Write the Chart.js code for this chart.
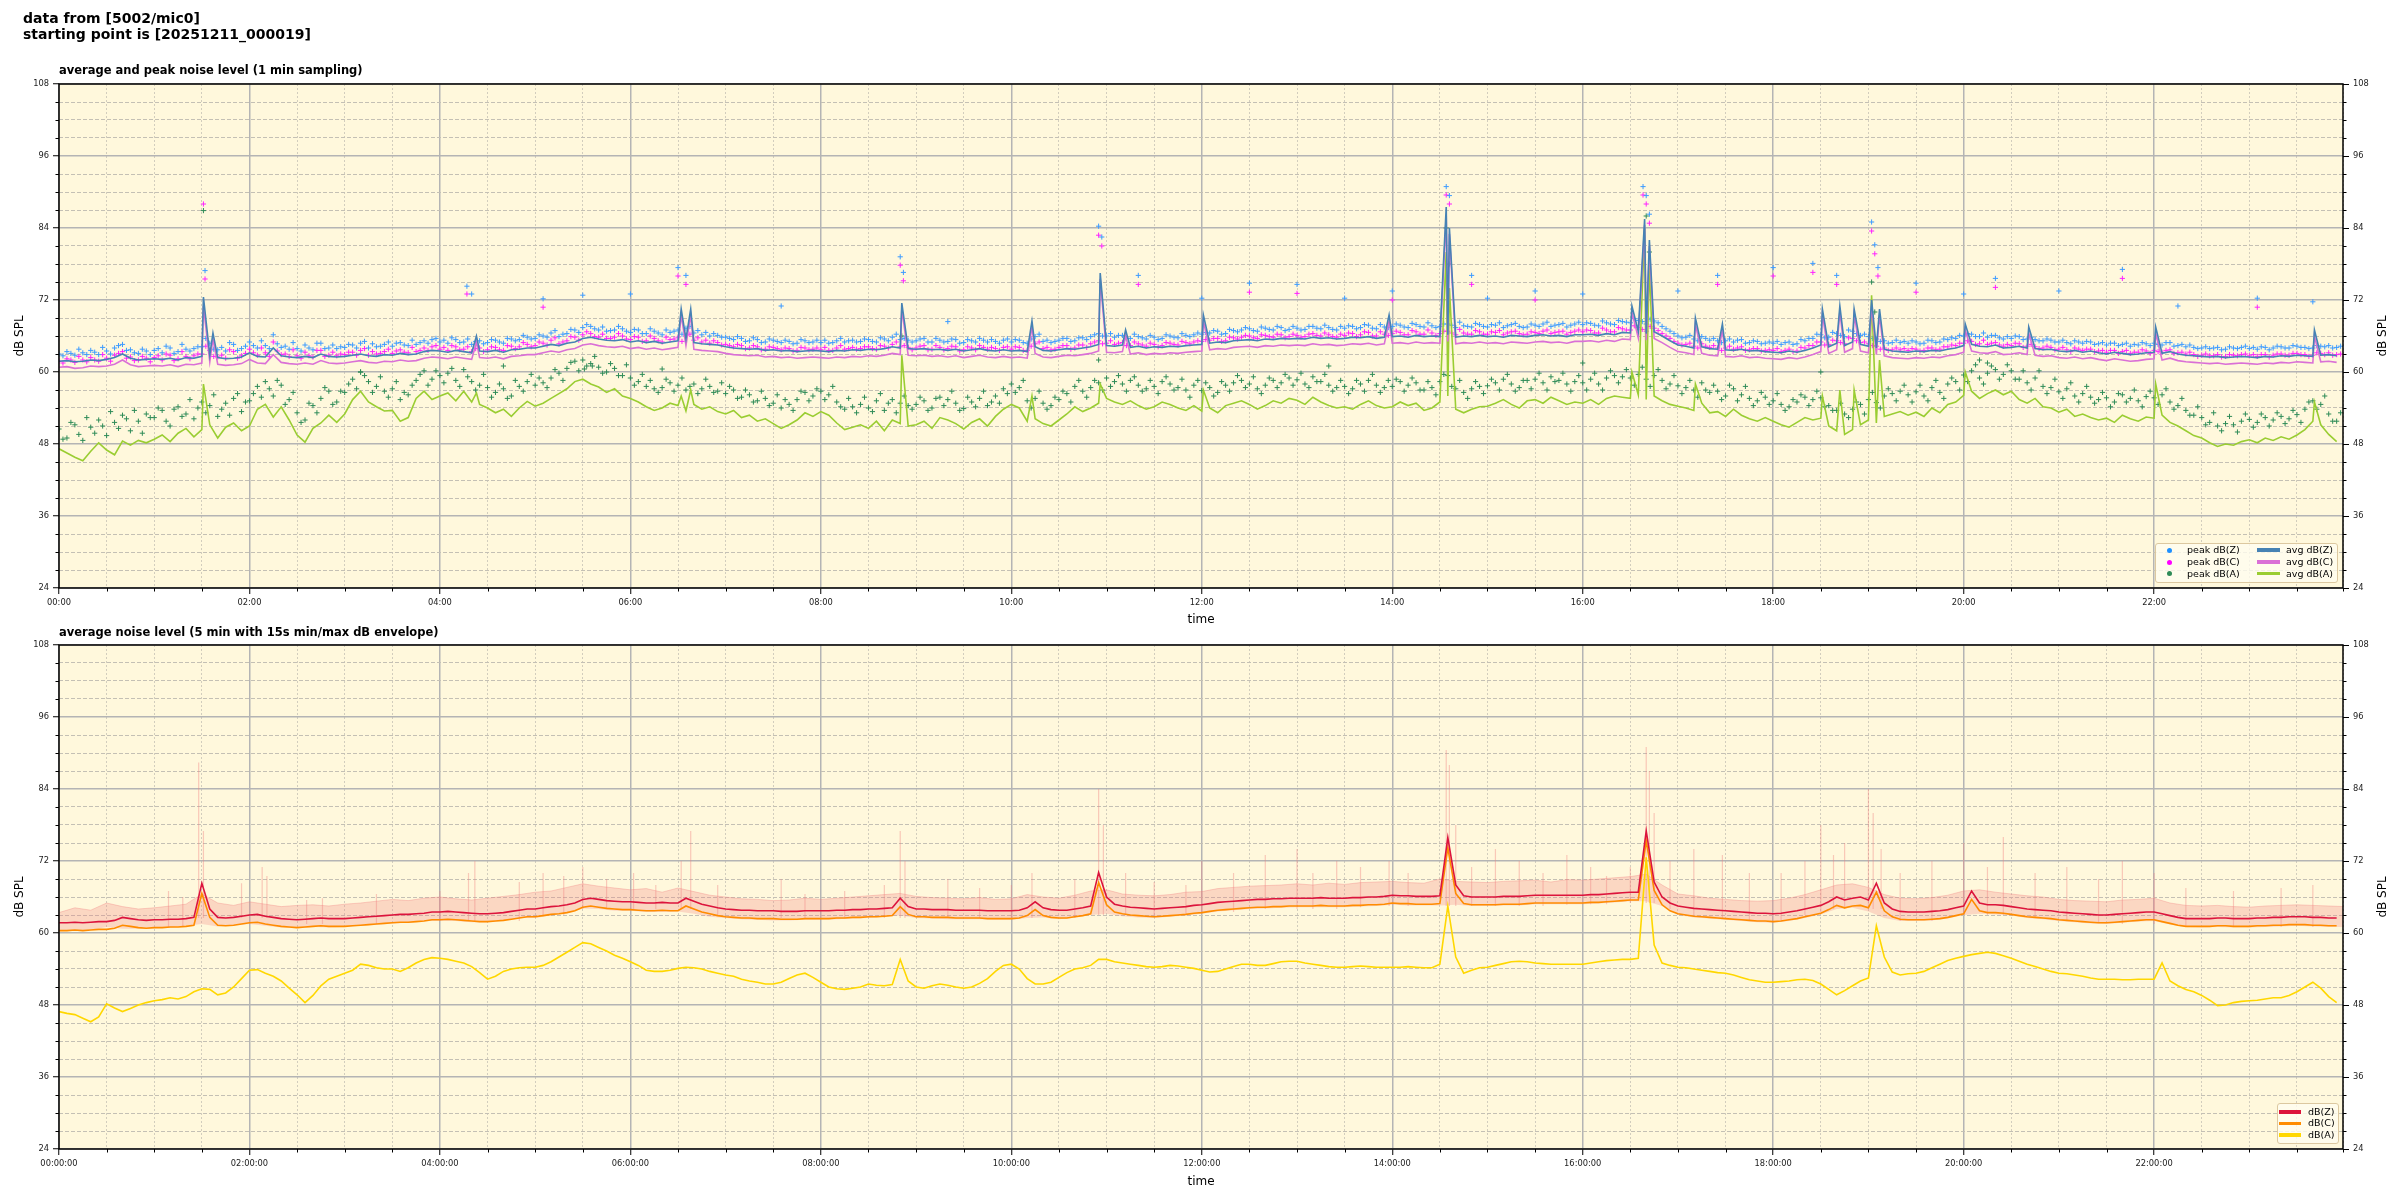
<!DOCTYPE html>
<html><head><meta charset="utf-8">
<script src="https://cdn.jsdelivr.net/npm/chart.js@4.4.1/dist/chart.umd.min.js"></script>
<style>
html,body{margin:0;padding:0;background:#fff;width:2400px;height:1200px;overflow:hidden;position:relative;font-family:"DejaVu Sans",sans-serif;color:#000;}
.abs{position:absolute;white-space:nowrap;}
canvas{position:absolute;left:0;}
#c1{top:0;}
#c2{top:615px;}
.sup{left:23px;top:10px;font-weight:bold;font-size:14px;line-height:16px;}
.st{left:59px;font-weight:bold;font-size:11.5px;line-height:13px;}
.yl{font-size:12px;line-height:14px;transform:translate(-50%,-50%) rotate(-90deg);}
.xl{font-size:12px;line-height:14px;transform:translate(-50%,-50%);}
.lbox{position:absolute;box-sizing:border-box;border:1px solid #dcc8a0;border-radius:3px;background:rgba(255,252,240,0.8);z-index:2;}
.lt{position:absolute;font-size:9.5px;line-height:12px;white-space:nowrap;z-index:3;}
.lm{position:absolute;width:5px;height:5px;border-radius:50%;z-index:3;}
.ll{position:absolute;height:3.5px;z-index:3;}
</style></head>
<body>
<canvas id="c1" width="2400" height="615"></canvas>
<canvas id="c2" width="2400" height="585"></canvas>

<div class="abs sup">data from [5002/mic0]<br>starting point is [20251211_000019]</div>
<div class="abs st" style="top:64px">average and peak noise level (1 min sampling)</div>
<div class="abs st" style="top:625.5px">average noise level (5 min with 15s min/max dB envelope)</div>
<div class="abs yl" style="left:19px;top:336px">dB SPL</div>
<div class="abs yl" style="left:2382px;top:336px">dB SPL</div>
<div class="abs yl" style="left:19px;top:897px">dB SPL</div>
<div class="abs yl" style="left:2382px;top:897px">dB SPL</div>
<div class="abs xl" style="left:1201px;top:619px">time</div>
<div class="abs xl" style="left:1201px;top:1181px">time</div>

<div class="lbox" style="left:2155px;top:543px;width:183px;height:40px"></div>
<div class="lm" style="left:2166.5px;top:547.5px;background:#1e90ff"></div>
<div class="lm" style="left:2166.5px;top:559.5px;background:#ff00ff"></div>
<div class="lm" style="left:2166.5px;top:571px;background:#2e8b57"></div>
<div class="lt" style="left:2187px;top:544px">peak dB(Z)</div>
<div class="lt" style="left:2187px;top:556px">peak dB(C)</div>
<div class="lt" style="left:2187px;top:567.5px">peak dB(A)</div>
<div class="ll" style="left:2257px;top:548.2px;width:23px;background:#4682b4"></div>
<div class="ll" style="left:2257px;top:560.2px;width:23px;background:#da70d6"></div>
<div class="ll" style="left:2257px;top:571.7px;width:23px;background:#9acd32"></div>
<div class="lt" style="left:2286px;top:544px">avg dB(Z)</div>
<div class="lt" style="left:2286px;top:556px">avg dB(C)</div>
<div class="lt" style="left:2286px;top:567.5px">avg dB(A)</div>

<div class="lbox" style="left:2277px;top:1103px;width:62px;height:41px"></div>
<div class="ll" style="left:2279px;top:1110px;width:22px;background:#dc143c"></div>
<div class="ll" style="left:2279px;top:1121.5px;width:22px;background:#ff8c00"></div>
<div class="ll" style="left:2279px;top:1133.2px;width:22px;background:#ffd700"></div>
<div class="lt" style="left:2308px;top:1105.7px">dB(Z)</div>
<div class="lt" style="left:2308px;top:1117.3px">dB(C)</div>
<div class="lt" style="left:2308px;top:1129px">dB(A)</div>

<script>
// ---------------- DATA ----------------
const X_MAX = 1439;            // minutes after 00:00
const TOP_STEP = 5;            // minutes between samples (top chart series)
const PEAK_OFFSET = 2.5;       // second set of peak readings, between the first ones
const BOT_STEP = 5;            // minutes between samples (bottom chart lines)
const ENV_STEP = 10;           // minutes between envelope samples

const avgZ = [
61.8,61.9,61.7,61.8,62.0,61.9,62.1,62.4,63.0,62.3,62.0,62.1,
62.2,62.1,62.3,62.0,62.4,62.3,62.6,62.8,62.4,62.2,62.3,62.5,
63.2,62.6,62.5,64.0,62.7,62.5,62.4,62.6,62.4,63.0,62.6,62.5,
62.6,62.8,63.0,62.7,62.6,62.9,62.8,63.1,62.9,63.0,63.4,63.6,
63.5,63.3,63.6,63.4,63.2,63.5,63.4,63.6,63.3,63.7,63.8,64.0,
64.0,64.3,64.6,64.4,64.8,65.0,65.6,65.8,65.5,65.3,65.2,65.4,
65.0,65.2,64.9,65.1,64.8,65.0,65.2,65.5,64.9,64.7,64.6,64.5,
64.2,64.0,63.9,63.8,63.9,63.6,63.7,63.5,63.6,63.4,63.5,63.6,
63.5,63.4,63.6,63.5,63.7,63.6,63.8,63.7,63.9,64.2,64.0,63.9,
63.8,63.9,63.7,63.8,63.6,63.8,63.5,63.7,63.9,63.6,63.5,63.7,
63.5,63.6,63.4,64.2,63.6,63.5,63.7,63.9,63.8,64.0,64.2,64.6,
64.4,64.3,64.5,64.1,64.3,64.0,64.2,64.1,64.3,64.2,64.4,64.5,
64.6,64.8,65.0,64.9,65.2,65.3,65.4,65.2,65.5,65.4,65.6,65.5,
65.6,65.5,65.8,65.6,65.7,65.5,65.6,65.8,65.7,65.9,65.6,65.8,
65.9,66.0,65.8,66.1,65.9,66.0,65.9,66.2,65.8,66.0,65.9,66.1,
65.9,66.0,65.8,66.1,66.0,65.9,66.1,66.2,66.0,66.1,65.9,66.2,
66.2,66.3,66.1,66.4,66.2,66.6,66.5,66.8,66.4,66.7,66.0,65.2,
64.5,64.3,64.0,64.2,63.9,63.8,63.7,63.6,63.8,63.5,63.6,63.4,
63.3,63.2,63.5,63.3,63.6,64.0,64.5,64.2,64.8,64.4,65.0,64.6,
64.3,64.0,63.8,63.5,63.4,63.3,63.5,63.4,63.6,63.5,63.8,64.0,
64.4,64.6,64.3,64.2,64.5,64.0,64.1,64.3,64.0,63.9,63.7,63.8,
63.5,63.4,63.6,63.3,63.5,63.2,63.0,63.3,63.1,62.9,63.0,63.2,
63.3,63.1,63.4,63.0,62.8,62.7,62.6,62.5,62.6,62.4,62.5,62.6,
62.5,62.4,62.6,62.5,62.7,62.6,62.8,62.7,62.6,62.8,62.9,62.7];

const avgC = [
60.8,60.9,60.6,60.7,61.0,60.9,61.0,61.3,62.0,61.2,60.9,61.0,
61.1,61.0,61.2,60.9,61.3,61.2,61.5,61.7,61.3,61.1,61.2,61.4,
62.1,61.5,61.4,62.9,61.6,61.4,61.3,61.5,61.3,61.9,61.5,61.4,
61.5,61.7,61.9,61.6,61.5,61.8,61.7,62.0,61.8,61.9,62.3,62.5,
62.4,62.2,62.5,62.3,62.1,62.4,62.3,62.5,62.2,62.6,62.7,62.9,
62.9,63.2,63.5,63.3,63.7,63.9,64.5,64.7,64.4,64.2,64.1,64.3,
63.9,64.1,63.8,64.0,63.7,63.9,64.1,64.4,63.8,63.6,63.5,63.4,
63.1,62.9,62.8,62.7,62.8,62.5,62.6,62.4,62.5,62.3,62.4,62.5,
62.4,62.3,62.5,62.4,62.6,62.5,62.7,62.6,62.8,63.1,62.9,62.8,
62.7,62.8,62.6,62.7,62.5,62.7,62.4,62.6,62.8,62.5,62.4,62.6,
62.4,62.5,62.3,63.1,62.5,62.4,62.6,62.8,62.7,62.9,63.1,63.5,
63.3,63.2,63.4,63.0,63.2,62.9,63.1,63.0,63.2,63.1,63.3,63.4,
63.5,63.7,63.9,63.8,64.1,64.2,64.3,64.1,64.4,64.3,64.5,64.4,
64.5,64.4,64.7,64.5,64.6,64.4,64.5,64.7,64.6,64.8,64.5,64.7,
64.8,64.9,64.7,65.0,64.8,64.9,64.8,65.1,64.7,64.9,64.8,65.0,
64.8,64.9,64.7,65.0,64.9,64.8,65.0,65.1,64.9,65.0,64.8,65.1,
65.1,65.2,65.0,65.3,65.1,65.5,65.4,65.7,65.3,65.6,64.9,64.1,
63.4,63.2,62.9,63.1,62.8,62.7,62.6,62.5,62.7,62.4,62.5,62.3,
62.2,62.1,62.4,62.2,62.5,62.9,63.4,63.1,63.7,63.3,63.9,63.5,
63.2,62.9,62.7,62.4,62.3,62.2,62.4,62.3,62.5,62.4,62.7,62.9,
63.3,63.5,63.2,63.1,63.4,62.9,63.0,63.2,62.9,62.8,62.6,62.7,
62.4,62.3,62.5,62.2,62.4,62.1,61.9,62.2,62.0,61.8,61.9,62.1,
62.2,62.0,62.3,61.9,61.7,61.6,61.5,61.4,61.5,61.3,61.4,61.5,
61.4,61.3,61.5,61.4,61.6,61.5,61.7,61.6,61.5,61.7,61.8,61.6];

const avgA = [
47.2,46.5,45.8,45.2,46.8,48.2,47.0,46.2,48.5,47.8,48.6,48.2,
48.8,49.5,48.4,49.8,50.6,49.2,50.4,51.2,49.0,50.8,51.5,50.2,
51.0,53.8,54.6,52.5,54.2,52.0,49.5,48.3,50.6,51.5,52.8,51.6,
53.0,55.4,56.8,55.0,54.2,53.5,53.6,51.8,52.4,55.6,56.8,55.4,
56.0,56.5,55.2,56.8,55.0,54.6,54.0,53.2,53.8,52.6,54.0,55.1,
54.3,54.8,55.6,56.4,57.2,58.4,58.8,58.0,57.5,56.6,57.2,56.0,
55.6,55.0,54.2,53.6,54.0,54.8,54.4,53.5,54.6,53.8,54.2,53.4,
53.0,53.6,52.4,52.8,51.8,52.2,51.4,50.6,51.2,52.0,53.2,52.6,
53.4,52.8,51.5,50.4,50.8,51.2,50.6,51.8,50.2,52.0,51.4,51.0,
51.2,51.8,50.6,52.4,52.0,51.4,50.5,51.6,52.2,51.0,52.6,53.8,
54.6,54.0,51.8,52.2,51.4,51.0,52.0,53.0,54.2,53.4,54.0,54.8,
55.6,55.0,54.6,55.2,54.4,53.8,54.2,55.0,54.6,54.0,53.6,54.4,
53.5,54.0,53.2,54.4,54.8,55.2,54.6,53.8,54.4,55.2,54.8,55.6,
55.3,54.6,55.8,55.0,54.4,54.0,54.2,53.8,54.6,55.2,54.4,54.0,
54.2,55.0,54.4,54.8,53.6,54.0,55.0,56.0,53.8,53.2,53.8,54.2,
54.3,54.8,55.4,54.6,54.0,55.2,55.4,54.8,55.8,55.2,54.6,55.0,
54.8,55.4,54.6,55.6,56.0,55.8,55.6,56.2,55.4,56.0,55.2,54.6,
54.3,54.0,53.6,54.8,53.2,53.4,52.6,53.8,52.8,52.2,51.8,52.4,
51.8,51.2,50.8,51.6,52.4,52.0,52.3,51.0,50.2,49.6,50.4,51.2,
52.0,51.5,52.6,53.0,53.4,52.8,53.3,52.6,54.0,53.2,54.6,55.0,
56.1,56.8,55.6,56.4,57.0,56.2,56.8,55.4,54.8,55.6,54.2,54.0,
53.3,53.8,52.6,53.0,52.4,52.0,52.3,51.6,52.8,52.2,51.8,52.5,
52.3,52.8,51.6,51.0,50.2,49.4,49.0,48.2,47.6,48.0,47.8,48.4,
48.7,48.2,49.0,48.6,49.2,48.8,49.5,50.4,51.8,51.2,49.6,48.4];

// short events (minute, value) added to the 1-min averages
const spikeTimes = [91,97,263,392,398,531,613,656,672,721,838,874,876,991,999,1002,1031,1048,1111,1122,1131,1142,1147,1201,1241,1321,1421];
const spikeZ = [72.5,66.5,66.0,70.5,70.5,71.5,68.5,76.5,67.0,69.5,69.5,87.5,84.0,71.0,85.5,82.0,69.0,68.0,70.5,71.0,70.5,72.0,70.5,68.0,67.5,67.5,67.0];
const spikeC = [71.0,65.5,65.0,69.5,69.5,70.5,67.5,75.5,66.0,68.5,68.5,86.0,83.0,70.0,84.5,81.0,68.0,67.0,69.5,70.0,69.5,71.0,69.5,67.0,66.5,66.5,66.0];
const spikeA = [58.0,null,56.5,56.0,57.0,62.8,56.0,58.0,null,57.0,null,80.0,74.0,60.0,84.0,78.0,58.0,null,56.0,57.0,57.0,72.8,62.0,60.0,null,58.0,55.0];

const peakZ = [
63.0,63.4,62.8,63.2,63.6,62.9,63.5,64.0,64.6,63.7,63.1,63.5,
63.6,63.2,64.0,63.4,63.8,63.9,64.2,64.8,63.7,63.5,64.6,63.9,
65.0,64.0,64.4,66.2,64.1,63.8,63.9,64.5,63.7,64.8,64.0,63.9,
64.1,64.5,64.8,64.0,64.2,64.6,64.3,64.9,64.4,64.6,65.2,65.4,
65.0,64.8,65.4,65.0,64.6,65.2,64.9,65.3,64.8,65.5,65.4,65.8,
65.6,66.0,66.5,65.9,66.4,67.0,67.4,67.6,67.0,66.8,67.0,67.2,
66.6,67.0,66.4,66.8,66.2,66.6,67.0,67.3,66.5,66.2,66.0,66.1,
65.8,65.4,65.6,65.2,65.4,65.0,65.3,64.9,65.1,64.8,65.2,65.0,
64.9,64.8,65.2,65.0,65.3,65.1,65.4,65.0,65.5,65.8,65.4,65.3,
65.2,65.6,65.0,65.3,65.1,65.4,64.9,65.2,65.6,65.0,65.1,65.3,
65.0,65.3,64.8,65.9,65.1,64.9,65.3,65.6,65.2,65.7,65.9,66.4,
66.0,65.8,66.1,65.6,65.9,65.5,65.8,65.6,66.0,65.7,66.1,66.2,
66.3,66.5,66.8,66.4,66.9,67.0,67.2,66.8,67.3,67.0,67.4,67.1,
67.3,67.1,67.6,67.2,67.4,67.0,67.3,67.6,67.4,67.8,67.2,67.5,
67.6,67.8,67.4,67.9,67.5,67.7,67.6,68.0,67.4,67.7,67.5,67.9,
67.5,67.8,67.4,67.9,67.6,67.5,67.8,68.0,67.6,67.9,67.5,68.0,
67.9,68.1,67.7,68.2,67.9,68.4,68.2,68.6,68.0,68.5,67.6,66.8,
66.0,65.8,65.5,65.9,65.3,65.2,65.2,65.0,65.4,64.9,65.1,64.8,
64.8,64.6,65.0,64.7,65.2,65.6,66.2,65.8,66.4,65.9,66.8,66.1,
65.9,65.5,65.2,64.9,64.9,64.8,65.0,64.8,65.2,65.0,65.4,65.6,
66.0,66.3,65.9,65.8,66.1,65.5,65.6,65.9,65.5,65.4,65.2,65.3,
65.0,64.9,65.2,64.8,65.0,64.7,64.5,64.8,64.6,64.3,64.5,64.7,
64.8,64.5,64.9,64.4,64.2,64.1,64.0,63.9,64.1,63.8,64.0,64.1,
63.9,63.8,64.1,64.0,64.2,64.0,64.3,64.1,64.0,64.3,64.4,64.1];

const peakZ2 = [
62.7,63.1,63.8,62.9,63.3,64.1,63.0,64.4,63.6,63.2,63.8,62.9,
63.9,64.3,63.1,64.6,63.5,64.2,65.6,63.8,64.1,64.9,63.6,64.3,
64.4,65.2,63.9,64.7,64.3,64.9,63.5,64.0,64.8,63.9,64.5,64.2,
64.6,64.0,65.1,64.7,64.3,65.0,64.8,64.5,65.3,64.9,64.8,65.6,
65.3,65.7,64.9,65.5,65.1,64.7,65.4,65.0,65.6,65.2,66.1,65.5,
66.2,65.8,66.9,66.3,67.1,66.6,67.9,67.2,67.5,66.9,67.6,66.8,
67.1,66.4,67.2,66.5,67.0,66.8,66.3,67.6,66.9,66.6,66.4,65.8,
65.6,65.9,65.1,65.7,64.9,65.5,65.1,65.3,64.7,65.4,64.9,65.3,
65.3,64.9,65.6,65.2,65.0,65.5,65.1,65.7,65.2,66.3,65.6,65.0,
65.5,65.0,65.6,65.0,65.5,64.8,65.4,65.0,65.3,65.4,64.8,65.5,
65.4,64.9,65.5,66.3,65.3,65.1,65.6,65.1,65.7,65.4,66.2,66.0,
66.4,66.1,65.6,66.3,65.7,66.1,65.4,66.2,65.8,66.4,65.9,66.5,
66.6,66.9,66.3,67.1,66.7,67.4,66.9,67.5,67.1,67.6,66.9,67.6,
67.0,67.6,67.3,67.8,67.1,67.6,67.7,67.2,67.9,67.3,67.9,67.4,
68.0,67.5,68.1,67.6,68.2,67.4,68.0,67.8,68.3,67.6,68.1,67.6,
67.9,68.2,67.7,68.1,67.4,68.0,67.6,68.3,67.8,68.1,67.8,68.3,
68.2,67.8,68.5,68.0,68.6,68.3,68.9,68.4,68.8,68.2,67.2,66.4,
65.7,66.1,65.2,65.6,65.6,64.9,65.5,65.3,64.8,65.2,64.7,65.0,
65.1,64.9,64.6,65.4,65.6,66.3,65.7,66.6,66.1,67.0,66.4,66.3,
65.6,65.1,64.8,65.3,65.1,65.2,64.7,65.3,64.9,65.5,65.7,66.1,
66.4,65.9,66.5,66.1,65.7,65.9,66.0,65.4,65.8,65.2,65.5,65.0,
65.3,64.7,65.0,65.1,64.6,64.9,64.8,64.4,64.8,64.6,64.9,64.4,
64.6,64.9,64.3,64.6,64.5,63.9,64.2,64.0,63.7,64.2,63.9,64.3,
64.1,64.2,63.7,64.3,64.0,64.4,64.1,63.9,64.4,64.2,64.0,64.3];

const peakC = [
61.8,62.2,61.6,62.0,62.4,61.8,62.3,62.8,63.4,62.5,62.0,62.3,
62.4,62.0,62.8,62.2,62.6,62.7,63.0,63.6,62.5,62.3,63.4,62.7,
63.8,62.8,63.2,65.0,62.9,62.6,62.7,63.3,62.5,63.6,62.8,62.7,
62.9,63.3,63.6,62.8,63.0,63.4,63.1,63.7,63.2,63.4,64.0,64.2,
63.8,63.6,64.2,63.8,63.4,64.0,63.7,64.1,63.6,64.3,64.2,64.6,
64.4,64.8,65.3,64.7,65.2,65.8,66.2,66.4,65.8,65.6,65.8,66.0,
65.4,65.8,65.2,65.6,65.0,65.4,65.8,66.1,65.3,65.0,64.8,64.9,
64.6,64.2,64.4,64.0,64.2,63.8,64.1,63.7,63.9,63.6,64.0,63.8,
63.7,63.6,64.0,63.8,64.1,63.9,64.2,63.8,64.3,64.6,64.2,64.1,
64.0,64.4,63.8,64.1,63.9,64.2,63.7,64.0,64.4,63.8,63.9,64.1,
63.8,64.1,63.6,64.7,63.9,63.7,64.1,64.4,64.0,64.5,64.7,65.2,
64.8,64.6,64.9,64.4,64.7,64.3,64.6,64.4,64.8,64.5,64.9,65.0,
65.1,65.3,65.6,65.2,65.7,65.8,66.0,65.6,66.1,65.8,66.2,65.9,
66.1,65.9,66.4,66.0,66.2,65.8,66.1,66.4,66.2,66.6,66.0,66.3,
66.4,66.6,66.2,66.7,66.3,66.5,66.4,66.8,66.2,66.5,66.3,66.7,
66.3,66.6,66.2,66.7,66.4,66.3,66.6,66.8,66.4,66.7,66.3,66.8,
66.7,66.9,66.5,67.0,66.7,67.2,67.0,67.4,66.8,67.3,66.4,65.6,
64.8,64.6,64.3,64.7,64.1,64.0,64.0,63.8,64.2,63.7,63.9,63.6,
63.6,63.4,63.8,63.5,64.0,64.4,65.0,64.6,65.2,64.7,65.6,64.9,
64.7,64.3,64.0,63.7,63.7,63.6,63.8,63.6,64.0,63.8,64.2,64.4,
64.8,65.1,64.7,64.6,64.9,64.3,64.4,64.7,64.3,64.2,64.0,64.1,
63.8,63.7,64.0,63.6,63.8,63.5,63.3,63.6,63.4,63.1,63.3,63.5,
63.6,63.3,63.7,63.2,63.0,62.9,62.8,62.7,62.9,62.6,62.8,62.9,
62.7,62.6,62.9,62.8,63.0,62.8,63.1,62.9,62.8,63.1,63.2,62.9];

const peakC2 = [
61.5,62.0,62.6,61.7,62.0,62.9,61.8,63.1,62.3,61.9,62.6,61.7,
62.7,63.0,61.9,63.4,62.2,63.0,64.3,62.6,62.8,63.7,62.3,63.1,
63.2,64.0,62.6,63.5,63.0,63.7,62.3,62.7,63.6,62.6,63.3,63.0,
63.3,62.8,63.9,63.4,63.1,63.8,63.5,63.3,64.1,63.6,63.6,64.4,
64.1,64.4,63.7,64.2,63.9,63.4,64.2,63.7,64.4,63.9,64.9,64.2,
65.0,64.5,65.7,65.0,65.9,65.3,66.7,65.9,66.3,65.6,66.4,65.5,
65.9,65.1,66.0,65.2,65.8,65.5,65.1,66.3,65.7,65.3,65.2,64.5,
64.4,64.6,63.9,64.4,63.7,64.2,63.9,64.0,63.5,64.1,63.7,64.0,
64.1,63.6,64.4,63.9,63.8,64.2,63.9,64.4,64.0,65.0,64.4,63.7,
64.3,63.7,64.4,63.7,64.3,63.5,64.2,63.7,64.1,64.1,63.6,64.2,
64.2,63.6,64.3,65.0,64.1,63.8,64.4,63.8,64.5,64.1,65.0,64.7,
65.2,64.8,64.4,65.0,64.5,64.8,64.2,64.9,64.6,65.1,64.7,65.2,
65.4,65.6,65.1,65.8,65.5,66.1,65.7,66.2,65.9,66.3,65.7,66.3,
65.8,66.3,66.1,66.5,65.9,66.3,66.5,65.9,66.7,66.0,66.7,66.1,
66.8,66.2,66.9,66.3,67.0,66.1,66.8,66.5,67.1,66.3,66.9,66.3,
66.7,66.9,66.5,66.8,66.2,66.7,66.4,67.0,66.6,66.8,66.6,67.0,
67.0,66.5,67.3,66.7,67.4,67.0,67.7,67.1,67.6,66.9,66.0,65.1,
64.5,64.8,64.0,64.3,64.4,63.6,64.3,64.0,63.6,63.9,63.5,63.7,
63.9,63.6,63.4,64.1,64.4,65.0,64.5,65.3,64.9,65.7,65.2,65.0,
64.4,63.8,63.6,64.0,63.9,63.9,63.5,64.0,63.7,64.2,64.5,64.8,
65.2,64.6,65.3,64.8,64.5,64.6,64.8,64.1,64.6,63.9,64.3,63.7,
64.1,63.4,63.8,63.8,63.4,63.6,63.6,63.1,63.6,63.3,63.7,63.1,
63.4,63.6,63.1,63.3,63.3,62.6,63.0,62.7,62.5,62.9,62.7,63.0,
62.9,62.9,62.5,63.0,62.8,63.1,62.9,62.6,63.2,62.9,62.8,63.0];

const peakA = [
50.5,49.0,51.2,48.6,50.8,52.0,49.4,51.6,52.8,50.2,51.8,53.0,
52.4,53.6,51.0,54.2,53.0,52.2,55.0,54.4,52.6,54.8,55.6,53.4,
55.2,57.6,58.4,56.0,57.8,55.4,53.2,52.0,54.4,55.6,56.8,55.0,
56.6,58.8,60.0,58.4,57.6,56.8,57.2,55.4,56.2,58.6,60.2,58.8,
59.4,59.8,58.6,60.4,58.4,57.8,57.4,56.6,57.2,56.0,57.6,58.4,
57.8,58.2,59.0,59.8,60.6,61.8,62.0,61.4,60.8,60.0,60.6,59.4,
59.0,58.4,57.6,57.2,57.4,58.2,57.8,57.0,58.0,57.2,57.6,56.8,
56.4,57.0,55.8,56.2,55.2,55.6,54.8,54.0,54.6,55.4,56.6,56.0,
56.8,56.2,55.0,53.8,54.2,54.6,54.0,55.2,53.6,55.4,54.8,54.4,
54.6,55.2,54.0,55.8,55.4,54.8,53.9,55.0,55.6,54.4,56.0,57.2,
58.0,57.4,55.2,55.6,54.8,54.4,55.4,56.4,57.6,56.8,57.4,58.2,
59.0,58.4,58.0,58.6,57.8,57.2,57.6,58.4,58.0,57.4,57.0,57.8,
56.9,57.4,56.6,57.8,58.2,58.6,58.0,57.2,57.8,58.6,58.2,59.0,
58.7,58.0,59.2,58.4,57.8,57.4,57.6,57.2,58.0,58.6,57.8,57.4,
57.6,58.4,57.8,58.2,57.0,57.4,58.4,59.4,57.2,56.6,57.2,57.6,
57.7,58.2,58.8,58.0,57.4,58.6,58.8,58.2,59.2,58.6,58.0,58.4,
58.2,58.8,58.0,59.0,59.4,59.2,59.0,59.6,58.8,59.4,58.6,58.0,
57.7,57.4,57.0,58.2,56.6,56.8,56.0,57.2,56.2,55.6,55.2,55.8,
55.2,54.6,54.2,55.0,55.8,55.4,55.7,54.4,53.6,53.0,53.8,54.6,
55.4,54.9,56.0,56.4,56.8,56.2,56.7,56.0,57.4,56.6,58.0,58.4,
59.5,60.2,59.0,59.8,60.4,59.6,60.2,58.8,58.2,59.0,57.6,57.4,
56.7,57.2,56.0,56.4,55.8,55.4,55.7,55.0,56.2,55.6,55.2,55.9,
55.7,56.2,55.0,54.4,53.6,52.8,52.4,51.6,51.0,51.4,51.2,51.8,
52.1,51.6,52.4,52.0,52.6,52.2,52.9,53.8,55.2,54.6,53.0,51.8];

const peakA2 = [
48.8,51.6,49.6,52.4,49.8,51.0,53.4,50.6,52.2,53.6,49.8,52.4,
54.0,51.8,53.8,52.6,55.4,54.0,53.2,56.2,53.8,52.8,56.4,55.0,
56.4,55.8,57.2,58.6,54.6,56.6,51.6,54.8,53.2,57.4,54.6,56.8,
58.0,57.2,59.4,56.6,59.2,55.8,58.4,56.6,57.8,59.6,57.8,60.2,
58.2,60.6,57.6,59.2,57.0,59.6,55.8,58.0,55.6,58.6,56.8,59.6,
59.0,57.4,60.4,58.6,61.6,60.2,61.0,62.6,59.8,61.4,59.4,61.2,
57.8,59.6,58.6,56.6,58.8,56.8,59.0,57.6,56.4,58.8,56.6,58.2,
57.6,55.6,57.0,55.0,56.8,54.4,56.2,55.4,53.6,56.8,55.2,57.2,
55.4,57.6,54.2,55.6,53.2,55.8,53.4,56.4,54.8,53.2,56.0,53.8,
55.8,53.6,55.6,54.4,56.8,53.6,55.8,54.2,56.8,55.0,54.8,56.4,
56.6,58.6,54.0,56.8,53.8,55.8,56.8,55.0,58.6,55.8,58.6,57.0,
57.6,59.4,56.8,59.2,56.8,58.6,56.4,59.2,57.0,58.8,55.8,58.6,
58.2,56.0,58.4,56.8,59.4,57.4,59.2,56.4,59.0,57.4,59.6,57.8,
59.8,57.4,58.4,59.6,56.8,58.6,56.4,58.6,56.8,59.6,56.6,58.6,
58.8,56.8,59.0,57.0,58.4,56.2,59.6,57.6,58.6,55.6,58.4,56.4,
58.8,57.0,59.6,56.8,58.6,57.2,59.8,57.0,58.4,59.8,56.8,59.4,
57.0,59.8,57.0,60.2,58.2,60.4,57.8,60.8,57.6,60.4,57.2,59.4,
56.4,58.6,55.8,57.0,57.8,55.4,57.8,55.2,57.6,54.4,56.6,54.6,
56.4,53.6,55.4,56.2,54.4,56.8,54.2,53.6,54.8,52.4,55.0,53.0,
56.6,54.0,57.2,55.2,57.8,55.0,57.8,55.2,58.6,55.6,59.0,57.0,
58.4,61.2,58.0,61.0,58.8,61.2,58.8,60.2,57.0,60.2,56.4,58.8,
55.6,58.2,55.0,57.6,54.8,56.6,54.2,56.4,55.0,57.0,54.2,56.8,
54.6,57.2,53.8,55.6,52.8,54.2,51.2,53.2,50.2,52.6,50.0,53.0,
50.8,53.0,51.0,53.2,51.4,53.6,51.6,55.0,53.8,56.0,51.8,53.2];

// isolated high peak readings (minute, dB)
const outZt = [92,257,260,305,330,360,390,395,455,530,532,560,655,657,680,720,750,780,810,840,874,876,890,900,930,960,998,1000,1002,1020,1045,1080,1105,1120,1142,1144,1146,1170,1200,1220,1260,1300,1335,1385,1420];
const outZv = [76.9,74.3,73.0,72.2,72.8,73.0,77.4,76.1,71.0,79.2,76.6,68.4,84.3,82.5,76.1,72.3,74.8,74.6,72.3,73.5,90.9,89.4,76.1,72.3,73.5,73.0,90.9,89.4,86.3,73.5,76.1,77.4,78.1,76.1,85.0,81.2,77.4,74.8,73.0,75.6,73.5,77.1,71.0,72.3,71.7];
const outCt = [91,92,257,305,390,395,530,532,655,657,680,750,780,840,874,876,890,930,998,1000,1002,1045,1080,1105,1120,1142,1144,1146,1170,1220,1300,1385];
const outCv = [88.0,75.5,73.0,70.8,76.0,74.6,77.8,75.2,82.8,81.0,74.6,73.3,73.1,72.0,89.5,88.0,74.6,72.0,89.5,88.0,84.8,74.6,76.0,76.6,74.6,83.5,79.7,76.0,73.3,74.1,75.6,70.8];
const outAt = [91,190,280,331,336,380,531,655,800,874,876,960,1000,1002,1110,1142,1144,1210,1215];
const outAv = [86.9,60.0,61.0,60.5,61.0,60.5,66.0,62.0,61.0,84.0,78.0,61.5,86.0,80.0,60.0,75.0,70.0,62.0,61.5];

// bottom chart: 5-min averages
const botZ = [
61.7,61.7,61.8,61.7,61.8,61.9,61.9,62.1,62.6,62.4,62.2,62.1,
62.2,62.2,62.3,62.3,62.4,62.6,68.3,64.0,62.6,62.5,62.6,62.8,
63.0,63.1,62.8,62.6,62.4,62.3,62.2,62.3,62.4,62.5,62.4,62.4,
62.4,62.5,62.6,62.7,62.8,62.9,63.0,63.1,63.1,63.2,63.3,63.5,
63.5,63.6,63.5,63.4,63.3,63.2,63.2,63.3,63.4,63.6,63.8,64.0,
64.0,64.2,64.4,64.5,64.7,65.0,65.6,65.8,65.6,65.4,65.3,65.2,
65.2,65.1,65.0,65.0,65.1,65.0,65.0,65.8,65.3,64.8,64.5,64.2,
64.0,63.9,63.8,63.8,63.7,63.7,63.7,63.6,63.6,63.6,63.7,63.7,
63.7,63.7,63.8,63.8,63.9,63.9,64.0,64.0,64.1,64.2,65.8,64.4,
64.0,64.0,63.9,63.9,63.9,63.8,63.8,63.8,63.8,63.7,63.7,63.7,
63.7,63.8,64.2,65.2,64.2,63.9,63.8,63.8,64.0,64.2,64.5,70.1,
66.0,64.8,64.5,64.3,64.2,64.1,64.0,64.1,64.2,64.3,64.4,64.6,
64.7,64.9,65.1,65.2,65.3,65.4,65.5,65.6,65.6,65.7,65.7,65.8,
65.8,65.8,65.8,65.9,65.8,65.8,65.8,65.9,65.9,66.0,66.0,66.1,
66.3,66.2,66.2,66.1,66.1,66.1,66.2,75.9,68.0,66.2,66.0,66.0,
66.0,66.0,66.1,66.1,66.1,66.2,66.3,66.3,66.3,66.3,66.3,66.3,
66.3,66.4,66.4,66.5,66.6,66.7,66.8,66.8,77.0,68.5,66.0,65.0,
64.5,64.3,64.1,64.0,63.9,63.8,63.7,63.6,63.5,63.4,63.3,63.3,
63.2,63.3,63.5,63.7,64.0,64.3,64.6,65.2,66.0,65.5,65.8,66.0,
65.5,68.3,65.0,64.0,63.6,63.5,63.5,63.5,63.6,63.7,63.9,64.2,
64.5,67.0,65.0,64.7,64.7,64.6,64.4,64.2,64.0,63.9,63.8,63.7,
63.5,63.4,63.3,63.2,63.1,63.0,63.0,63.1,63.2,63.3,63.4,63.5,
63.5,63.2,62.9,62.6,62.4,62.4,62.4,62.4,62.5,62.5,62.4,62.4,
62.4,62.5,62.5,62.6,62.6,62.7,62.7,62.7,62.6,62.6,62.5,62.5];

const botC = [
60.4,60.4,60.5,60.4,60.5,60.6,60.6,60.8,61.3,61.1,60.9,60.8,
60.9,60.9,61.0,61.0,61.1,61.3,66.6,62.6,61.3,61.2,61.3,61.5,
61.7,61.8,61.5,61.3,61.1,61.0,60.9,61.0,61.1,61.2,61.1,61.1,
61.1,61.2,61.3,61.4,61.5,61.6,61.7,61.8,61.8,61.9,62.0,62.2,
62.2,62.3,62.2,62.1,62.0,61.9,61.9,62.0,62.1,62.3,62.5,62.7,
62.7,62.9,63.1,63.2,63.4,63.7,64.3,64.5,64.3,64.1,64.0,63.9,
63.9,63.8,63.7,63.7,63.8,63.7,63.7,64.5,64.0,63.5,63.2,62.9,
62.7,62.6,62.5,62.5,62.4,62.4,62.4,62.3,62.3,62.3,62.4,62.4,
62.4,62.4,62.5,62.5,62.6,62.6,62.7,62.7,62.8,62.9,64.4,63.1,
62.7,62.7,62.6,62.6,62.6,62.5,62.5,62.5,62.5,62.4,62.4,62.4,
62.4,62.5,62.9,63.9,62.9,62.6,62.5,62.5,62.7,62.9,63.2,68.4,
64.7,63.5,63.2,63.0,62.9,62.8,62.7,62.8,62.9,63.0,63.1,63.3,
63.4,63.6,63.8,63.9,64.0,64.1,64.2,64.3,64.3,64.4,64.4,64.5,
64.5,64.5,64.5,64.6,64.5,64.5,64.5,64.6,64.6,64.7,64.7,64.8,
65.0,64.9,64.9,64.8,64.8,64.8,64.9,74.2,66.6,64.9,64.7,64.7,
64.7,64.7,64.8,64.8,64.8,64.9,65.0,65.0,65.0,65.0,65.0,65.0,
65.0,65.1,65.1,65.2,65.3,65.4,65.5,65.5,75.4,67.1,64.7,63.7,
63.2,63.0,62.8,62.7,62.6,62.5,62.4,62.3,62.2,62.1,62.0,62.0,
61.9,62.0,62.2,62.4,62.7,63.0,63.3,63.9,64.6,64.2,64.5,64.6,
64.2,66.8,63.7,62.7,62.3,62.2,62.2,62.2,62.3,62.4,62.6,62.9,
63.2,65.6,63.7,63.4,63.4,63.3,63.1,62.9,62.7,62.6,62.5,62.4,
62.2,62.1,62.0,61.9,61.8,61.7,61.7,61.8,61.9,62.0,62.1,62.2,
62.2,61.9,61.6,61.3,61.1,61.1,61.1,61.1,61.2,61.2,61.1,61.1,
61.1,61.2,61.2,61.3,61.3,61.4,61.4,61.4,61.3,61.3,61.2,61.2];

const botA = [
46.9,46.6,46.4,45.8,45.2,46.0,48.2,47.5,46.9,47.4,48.0,48.4,
48.7,48.9,49.2,49.0,49.4,50.2,50.7,50.6,49.7,50.0,51.0,52.4,
53.8,53.9,53.3,52.8,52.0,50.8,49.7,48.4,49.6,51.2,52.3,52.8,
53.3,53.8,54.8,54.6,54.2,54.0,54.0,53.6,54.2,55.0,55.6,55.9,
55.8,55.6,55.3,55.0,54.4,53.4,52.3,52.8,53.6,54.0,54.2,54.3,
54.3,54.6,55.2,56.0,56.8,57.6,58.4,58.2,57.6,57.0,56.3,55.8,
55.2,54.6,53.8,53.6,53.6,53.8,54.1,54.3,54.2,54.0,53.6,53.3,
53.0,52.8,52.3,52.0,51.8,51.5,51.5,51.8,52.4,53.0,53.3,52.6,
51.8,51.0,50.7,50.6,50.8,51.0,51.5,51.3,51.2,51.4,55.6,52.0,
51.0,50.8,51.2,51.5,51.3,51.0,50.8,51.0,51.6,52.4,53.6,54.6,
54.8,54.0,52.4,51.5,51.5,51.8,52.6,53.4,54.0,54.2,54.6,55.6,
55.6,55.2,55.0,54.8,54.6,54.4,54.3,54.4,54.6,54.5,54.3,54.1,
53.8,53.5,53.6,54.0,54.4,54.8,54.8,54.6,54.6,54.9,55.2,55.3,
55.3,55.0,54.8,54.6,54.4,54.3,54.3,54.4,54.5,54.4,54.3,54.3,
54.3,54.3,54.4,54.3,54.2,54.2,54.8,64.5,56.0,53.3,53.8,54.2,
54.3,54.6,54.9,55.2,55.3,55.2,55.0,54.9,54.8,54.8,54.8,54.8,
54.8,55.0,55.2,55.4,55.5,55.6,55.6,55.8,72.6,58.0,55.0,54.6,
54.3,54.2,54.0,53.8,53.6,53.4,53.3,53.0,52.6,52.2,52.0,51.8,
51.8,51.9,52.0,52.2,52.3,52.1,51.5,50.6,49.7,50.4,51.2,52.0,
52.5,61.2,56.0,53.5,53.0,53.2,53.3,53.6,54.2,54.8,55.4,55.8,
56.1,56.4,56.6,56.8,56.6,56.2,55.8,55.3,54.8,54.4,54.0,53.6,
53.3,53.2,53.0,52.8,52.5,52.3,52.3,52.3,52.2,52.2,52.3,52.3,
52.3,55.0,52.0,51.2,50.6,50.2,49.6,48.8,47.9,48.0,48.4,48.6,
48.7,48.8,49.0,49.2,49.2,49.6,50.2,51.0,51.8,50.8,49.4,48.4];

// 15 s min/max envelope (10-min resolution) and its short excursions
const envLow = [
60.3,60.4,60.5,61.0,60.7,60.7, 60.8,60.9,61.2,61.5,61.1,61.3, 61.5,61.2,60.9,60.8,61.0,60.9,
61.0,61.2,61.4,61.6,61.7,62.0, 62.0,62.0,61.8,61.8,62.1,62.5, 62.5,62.9,63.3,64.1,64.0,63.7,
63.7,63.5,63.5,63.6,63.2,62.7, 62.5,62.3,62.2,62.1,62.1,62.2, 62.2,62.3,62.4,62.5,62.7,62.9,
62.5,62.4,62.3,62.3,62.3,62.2, 62.2,62.5,62.6,62.3,62.6,63.0, 63.2,62.8,62.6,62.5,62.7,62.9,
63.2,63.6,63.8,64.0,64.1,64.2, 64.3,64.3,64.3,64.3,64.4,64.5, 64.7,64.6,64.6,64.6,64.7,64.5,
64.5,64.6,64.6,64.8,64.8,64.8, 64.8,64.9,65.1,65.3,65.3,64.5, 63.0,62.6,62.4,62.2,62.0,61.8,
61.7,62.0,62.5,63.1,64.0,64.2, 63.6,62.5,62.0,62.0,62.1,62.4, 63.0,63.2,63.1,62.9,62.5,62.3,
62.0,61.8,61.6,61.5,61.7,61.9, 62.0,61.4,61.0,60.9,61.0,60.9, 60.9,61.0,61.1,61.2,61.1,61.0, 61.0];
const envHigh = [
63.4,64.2,63.8,65.0,64.4,64.0, 64.2,64.5,64.8,66.5,65.0,64.6, 65.2,64.8,64.4,64.6,64.7,64.5,
64.8,65.0,65.3,65.6,65.4,65.8, 66.0,65.7,65.5,65.8,66.1,66.4, 66.8,67.0,67.6,68.2,67.8,67.5,
67.2,67.4,66.8,67.5,66.9,66.3, 66.0,65.7,65.6,65.4,65.5,65.8, 65.6,65.8,66.0,66.2,66.4,66.6,
66.1,65.9,65.8,65.7,65.9,65.6, 65.7,66.4,66.0,65.8,66.3,67.0, 67.2,66.5,66.3,66.2,66.4,66.8,
66.9,67.4,67.6,67.8,67.9,68.0, 68.2,68.0,68.3,68.1,68.4,68.5, 68.6,68.4,68.3,69.0,68.6,68.5,
68.4,68.6,68.7,68.8,68.5,68.9, 68.8,69.0,69.2,69.4,69.8,68.0, 66.5,66.2,65.8,65.6,65.4,65.3,
65.4,65.8,66.4,67.2,68.0,68.2, 67.6,66.4,65.8,65.7,65.9,66.3, 67.0,67.2,66.8,66.5,66.2,66.0,
65.6,65.4,65.3,65.2,65.5,65.6, 65.8,65.0,64.6,64.5,64.6,64.4, 64.3,64.5,64.6,64.7,64.6,64.5, 64.4];
const envSpikeT  = [69,78,88,91,115,128,131,156,166,200,240,258,262,290,305,318,330,345,362,376,392,398,415,455,470,495,520,530,533,560,580,600,613,640,655,658,672,690,710,720,740,760,780,790,805,820,838,850,874,876,880,890,905,920,935,950,965,975,990,1000,1002,1005,1015,1030,1048,1065,1085,1100,1110,1118,1125,1140,1143,1148,1160,1180,1200,1215,1225,1245,1265,1285,1300,1320,1340,1370,1400,1420];
const envSpikeHi = [67,66,88.4,77,68.3,71,69.5,65.5,65.8,66.5,67,70,72,68.5,70,69.5,71,69,70,68,72,77,68,69,66.5,67,68,77,72,69,67.5,68,70,69,84,78,70,68.5,68,72,70,73,74,70,72,71,72,70,90.5,88,78,71,74,72,70,73,71,69.5,71,91,87,80,72,74,73,70,70,72,78,73,75,84,80,74,70,72,75,71,76,70,71,69,72,70,67.5,67,67.5,68];
const envSpikeLo = [61,61,62.5,62.5,62.5,62.5,62.5,61.5,61.5,61.5,62,62,62,62,63,63,64,64,64,64,64,64,63,62.5,62.5,62.5,62.5,62.5,62.5,62.5,62.5,62.5,62.5,62.5,63,63,63,63,63,63.5,63.5,64,64,64,64,64.3,64.5,64.5,64.5,64.5,64.5,64.5,64.5,64.5,64.5,64.7,64.8,64.8,65,65,65,65,64,63,62.5,62,62,63,63.5,64,64,64,64,64,62,62,63,63,63,62.5,62,61.7,61.5,61.5,61,61,61,61];

// ---------------- BUILD ----------------
const CORNSILK = '#fff8dc';
function series(vals, step, off){ off = off||0; return vals.map((v,i)=>({x:i*step+off, y:v})); }
function withExtra(base, times, vals){
  const pts = base.slice();
  times.forEach((t,i)=>{ if(vals[i]!=null) pts.push({x:t, y:vals[i]}); });
  pts.sort((a,b)=>a.x-b.x); return pts;
}
function pairs(times, vals){ return times.map((t,i)=>({x:t, y:vals[i]})); }
function pad2(n){ return (n<10?'0':'')+n; }

const isMajY = c => c.tick && Math.round(c.tick.value)%12===0;
const isMajX = c => c.tick && Math.round(c.tick.value)%120===0;

const frameAndTicks = {
  id:'frameAndTicks',
  beforeDraw(chart){
    const a=chart.chartArea, c=chart.ctx;
    c.save(); c.fillStyle=CORNSILK; c.fillRect(a.left,a.top,a.right-a.left,a.bottom-a.top); c.restore();
  },
  afterDraw(chart){
    const a=chart.chartArea, c=chart.ctx;
    c.save(); c.strokeStyle='#000'; c.lineWidth=1;
    ['y','y2'].forEach(id=>{
      const s=chart.scales[id];
      s.ticks.forEach(t=>{
        if(Math.round(t.value)%12!==0){
          const p=Math.round(s.getPixelForValue(t.value))+0.5;
          c.beginPath();
          if(id==='y'){ c.moveTo(a.left,p); c.lineTo(a.left-3.5,p); }
          else { c.moveTo(a.right,p); c.lineTo(a.right+3.5,p); }
          c.stroke();
        }
      });
    });
    const sx=chart.scales.x;
    sx.ticks.forEach(t=>{
      if(Math.round(t.value)%120!==0){
        const p=Math.round(sx.getPixelForValue(t.value))+0.5;
        c.beginPath(); c.moveTo(p,a.bottom); c.lineTo(p,a.bottom+3.5); c.stroke();
      }
    });
    c.lineWidth=1.5; c.strokeStyle='#000';
    c.strokeRect(a.left,a.top,a.right-a.left,a.bottom-a.top);
    c.restore();
  }
};

function scales(xfmt, xHeight){
  const tf = {family:'DejaVu Sans', size:8.3};
  const yTicks = {stepSize:3, autoSkip:false, font:tf, color:'#222', padding:4,
                  callback:v=> Math.round(v)%12===0 ? String(v) : ''};
  return {
    x:{type:'linear', min:0, max:X_MAX, bounds:'data',
       afterFit:s=>{s.height=xHeight;},
       ticks:{stepSize:30, autoSkip:false, maxRotation:0, minRotation:0, includeBounds:false, font:tf, color:'#222', padding:4,
              callback:v=> Math.round(v)%120===0 ? xfmt(v) : ''},
       grid:{color:c=>isMajX(c)?'#b4b4b4':'#d2cdbd', lineWidth:c=>isMajX(c)?1.5:1,
             tickColor:c=>isMajX(c)?'#000':'rgba(0,0,0,0)', tickLength:6, tickWidth:1},
       border:{display:false, dash:c=>isMajX(c)?[]:[2,2]}},
    y:{position:'left', min:24, max:108, afterFit:s=>{s.width=59;}, ticks:yTicks,
       grid:{color:c=>isMajY(c)?'#b4b4b4':'#c4c0b4', lineWidth:c=>isMajY(c)?1.5:1,
             tickColor:c=>isMajY(c)?'#000':'rgba(0,0,0,0)', tickLength:6, tickWidth:1},
       border:{display:false, dash:c=>isMajY(c)?[]:[4,2]}},
    y2:{position:'right', min:24, max:108, afterFit:s=>{s.width=57;}, ticks:yTicks,
       grid:{drawOnChartArea:false, tickColor:c=>isMajY(c)?'#000':'rgba(0,0,0,0)', tickLength:6, tickWidth:1},
       border:{display:false}}
  };
}

const common = {
  responsive:false, animation:false, devicePixelRatio:1,
  plugins:{legend:{display:false}, tooltip:{enabled:false}},
  elements:{point:{radius:0}, line:{tension:0}}
};

function lineDS(data, color, w, order){
  return {type:'line', data, borderColor:color, borderWidth:w, pointRadius:0, fill:false, order, spanGaps:false};
}
function crossDS(data, color, order){
  return {type:'line', data, showLine:false, pointStyle:'cross', pointRadius:2.6, borderColor:color, backgroundColor:color, pointBorderWidth:1, borderWidth:1, order};
}

// top chart
new Chart(document.getElementById('c1'), {
  type:'line',
  data:{datasets:[
    lineDS(withExtra(series(avgZ,TOP_STEP), spikeTimes, spikeZ), '#4682b4', 1.6, 1),
    lineDS(withExtra(series(avgC,TOP_STEP), spikeTimes, spikeC), '#da70d6', 1.6, 2),
    lineDS(withExtra(series(avgA,TOP_STEP), spikeTimes, spikeA), '#9acd32', 1.6, 3),
    crossDS(series(peakZ,TOP_STEP).concat(series(peakZ2,TOP_STEP,PEAK_OFFSET), pairs(outZt,outZv)), '#3d9bff', 5),
    crossDS(series(peakC,TOP_STEP).concat(series(peakC2,TOP_STEP,PEAK_OFFSET), pairs(outCt,outCv)), '#ff22ff', 6),
    crossDS(series(peakA,TOP_STEP).concat(series(peakA2,TOP_STEP,PEAK_OFFSET), pairs(outAt,outAv)), '#2e8b57', 7)
  ]},
  options:Object.assign({}, common, {
    layout:{padding:{top:84, left:0, right:0, bottom:0}},
    scales:scales(v=>pad2(Math.floor(v/60))+':'+pad2(v%60), 27)
  }),
  plugins:[frameAndTicks]
});

// bottom chart
const spikeSegs = [];
envSpikeT.forEach((t,i)=>{ spikeSegs.push({x:t,y:envSpikeLo[i]},{x:t,y:envSpikeHi[i]},{x:t,y:null}); });

new Chart(document.getElementById('c2'), {
  type:'line',
  data:{datasets:[
    {type:'line', data:series(envLow,ENV_STEP), borderWidth:0, borderColor:'rgba(0,0,0,0)', pointRadius:0, fill:false, order:20},
    {type:'line', data:series(envHigh,ENV_STEP), borderWidth:1, borderColor:'rgba(240,128,128,0.35)', backgroundColor:'rgba(240,128,128,0.28)', pointRadius:0, fill:'-1', order:19},
    {type:'line', data:spikeSegs, borderWidth:1.2, borderColor:'rgba(240,128,128,0.4)', pointRadius:0, fill:false, spanGaps:false, order:18},
    lineDS(series(botZ,BOT_STEP), '#dc143c', 1.6, 1),
    lineDS(series(botC,BOT_STEP), '#ff8c00', 1.6, 2),
    lineDS(series(botA,BOT_STEP), '#ffd700', 1.6, 3)
  ]},
  options:Object.assign({}, common, {
    layout:{padding:{top:30, left:0, right:0, bottom:0}},
    scales:scales(v=>pad2(Math.floor(v/60))+':'+pad2(v%60)+':00', 51)
  }),
  plugins:[frameAndTicks]
});
</script>
</body></html>
